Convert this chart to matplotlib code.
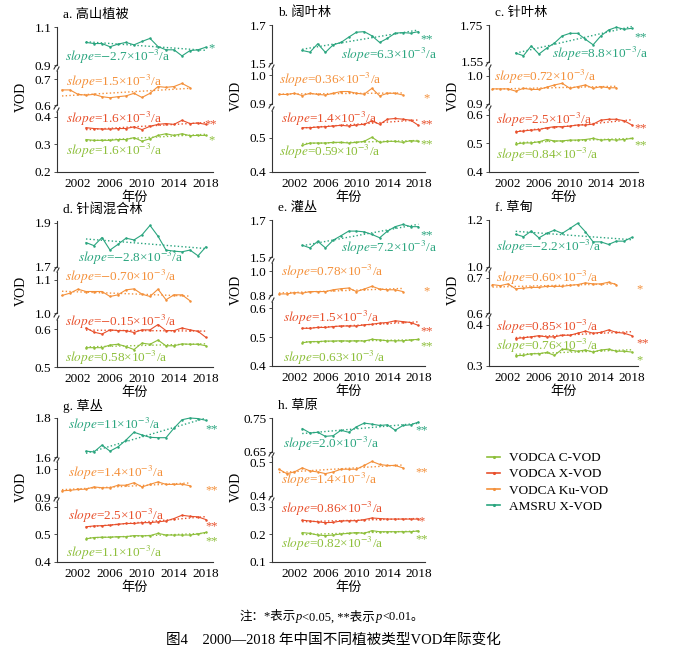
import numpy as np
import matplotlib.pyplot as plt
from matplotlib.lines import Line2D

plt.rcParams['font.family'] = ['Liberation Serif', 'Noto Sans CJK SC']
plt.rcParams['mathtext.fontset'] = 'stix'

W, H = 679, 653

# years
yrs_sat = list(range(2003, 2019))   # AMSRU, VODCA C and X
yrs_ku = list(range(2000, 2017))    # VODCA Ku

# a. alpine vegetation
a_amsru = [1.019, 1.013, 1.013, 0.996, 1.010, 1.019, 1.006, 1.024, 1.040, 0.997, 0.980, 0.980, 0.948, 0.976, 0.980, 0.994]
a_ku = [0.658, 0.658, 0.641, 0.638, 0.641, 0.632, 0.628, 0.632, 0.635, 0.645, 0.629, 0.645, 0.671, 0.668, 0.671, 0.683, 0.667]
a_x = [0.361, 0.358, 0.356, 0.356, 0.358, 0.358, 0.364, 0.354, 0.366, 0.373, 0.376, 0.373, 0.388, 0.376, 0.378, 0.373]
a_c = [0.318, 0.315, 0.315, 0.315, 0.318, 0.318, 0.325, 0.312, 0.321, 0.333, 0.339, 0.333, 0.339, 0.332, 0.333, 0.333]

# b. broadleaf forest
b_amsru = [1.566, 1.557, 1.601, 1.556, 1.596, 1.608, 1.636, 1.662, 1.665, 1.643, 1.608, 1.630, 1.657, 1.660, 1.657, 1.665]
b_ku = [0.933, 0.933, 0.937, 0.929, 0.937, 0.933, 0.931, 0.937, 0.943, 0.943, 0.937, 0.934, 0.954, 0.928, 0.937, 0.937, 0.931]
b_x = [0.530, 0.530, 0.532, 0.533, 0.535, 0.537, 0.535, 0.538, 0.540, 0.550, 0.540, 0.555, 0.557, 0.555, 0.552, 0.537]
b_c = [0.478, 0.485, 0.485, 0.485, 0.487, 0.487, 0.485, 0.487, 0.490, 0.502, 0.487, 0.490, 0.490, 0.487, 0.492, 0.490]

# c. needleleaf forest
c_amsru = [1.598, 1.584, 1.637, 1.593, 1.625, 1.652, 1.691, 1.705, 1.705, 1.673, 1.643, 1.691, 1.723, 1.738, 1.727, 1.732]
c_ku = [0.954, 0.954, 0.954, 0.946, 0.956, 0.952, 0.952, 0.960, 0.968, 0.974, 0.956, 0.962, 0.968, 0.956, 0.962, 0.958, 0.958]
c_x = [0.541, 0.544, 0.547, 0.549, 0.555, 0.559, 0.559, 0.561, 0.565, 0.565, 0.568, 0.582, 0.585, 0.585, 0.580, 0.565]
c_c = [0.498, 0.502, 0.502, 0.506, 0.514, 0.509, 0.509, 0.512, 0.512, 0.514, 0.518, 0.512, 0.514, 0.512, 0.514, 0.518]

# d. mixed forest
d_amsru = [1.811, 1.797, 1.834, 1.777, 1.803, 1.831, 1.823, 1.846, 1.889, 1.840, 1.777, 1.772, 1.769, 1.777, 1.751, 1.792]
d_ku = [1.053, 1.060, 1.072, 1.065, 1.065, 1.065, 1.050, 1.055, 1.070, 1.073, 1.057, 1.050, 1.072, 1.040, 1.055, 1.055, 1.037]
d_x = [0.603, 0.592, 0.587, 0.598, 0.596, 0.596, 0.591, 0.598, 0.598, 0.612, 0.596, 0.596, 0.603, 0.598, 0.594, 0.578]
d_c = [0.551, 0.551, 0.551, 0.558, 0.560, 0.554, 0.546, 0.563, 0.560, 0.571, 0.556, 0.556, 0.561, 0.560, 0.560, 0.556]

# e. shrubland
e_amsru = [1.564, 1.549, 1.585, 1.549, 1.591, 1.615, 1.640, 1.640, 1.636, 1.622, 1.604, 1.640, 1.664, 1.676, 1.664, 1.664]
e_ku = [0.809, 0.809, 0.821, 0.815, 0.829, 0.829, 0.829, 0.844, 0.853, 0.859, 0.829, 0.850, 0.874, 0.850, 0.844, 0.844, 0.829]
e_x = [0.530, 0.530, 0.533, 0.533, 0.536, 0.538, 0.538, 0.538, 0.542, 0.544, 0.548, 0.550, 0.556, 0.553, 0.550, 0.540]
e_c = [0.480, 0.484, 0.484, 0.486, 0.486, 0.487, 0.486, 0.487, 0.486, 0.492, 0.490, 0.487, 0.487, 0.487, 0.490, 0.492]

# f. meadow
f_amsru = [1.139, 1.129, 1.153, 1.124, 1.143, 1.157, 1.143, 1.164, 1.186, 1.150, 1.107, 1.107, 1.096, 1.110, 1.110, 1.126]
f_ku = [0.681, 0.678, 0.683, 0.669, 0.671, 0.673, 0.673, 0.676, 0.676, 0.676, 0.679, 0.681, 0.686, 0.683, 0.683, 0.688, 0.681]
f_x = [0.367, 0.369, 0.371, 0.374, 0.371, 0.371, 0.375, 0.375, 0.380, 0.385, 0.380, 0.382, 0.388, 0.382, 0.380, 0.374]
f_c = [0.325, 0.326, 0.330, 0.330, 0.333, 0.326, 0.341, 0.339, 0.336, 0.339, 0.334, 0.339, 0.341, 0.336, 0.336, 0.334]

# g. grass-shrub
g_amsru = [1.630, 1.626, 1.661, 1.630, 1.652, 1.687, 1.727, 1.713, 1.701, 1.699, 1.699, 1.748, 1.791, 1.800, 1.797, 1.788]
g_ku = [0.922, 0.924, 0.927, 0.928, 0.936, 0.933, 0.933, 0.942, 0.942, 0.951, 0.936, 0.945, 0.954, 0.945, 0.945, 0.946, 0.940]
g_x = [0.528, 0.531, 0.532, 0.534, 0.537, 0.540, 0.540, 0.543, 0.543, 0.546, 0.549, 0.558, 0.570, 0.566, 0.564, 0.554]
g_c = [0.484, 0.489, 0.490, 0.490, 0.492, 0.492, 0.496, 0.495, 0.496, 0.504, 0.498, 0.498, 0.498, 0.498, 0.502, 0.508]

# h. grassland
h_amsru = [0.719, 0.706, 0.708, 0.696, 0.698, 0.714, 0.708, 0.724, 0.735, 0.732, 0.728, 0.730, 0.714, 0.728, 0.730, 0.738]
h_ku = [0.479, 0.466, 0.471, 0.483, 0.474, 0.471, 0.466, 0.471, 0.479, 0.479, 0.479, 0.490, 0.502, 0.493, 0.490, 0.490, 0.483]
h_x = [0.252, 0.249, 0.246, 0.243, 0.244, 0.249, 0.250, 0.250, 0.254, 0.260, 0.258, 0.256, 0.256, 0.256, 0.256, 0.256]
h_c = [0.207, 0.204, 0.198, 0.196, 0.198, 0.202, 0.204, 0.207, 0.204, 0.214, 0.210, 0.210, 0.210, 0.210, 0.210, 0.213]

# slopes (x10^-3/a) and significance, order: AMSRU, Ku, X, C
a_slopes, a_sig = ['-2.7', '1.5', '1.6', '1.6'], ['*', '', '**', '*']
b_slopes, b_sig = ['6.3', '0.36', '1.4', '0.59'], ['**', '*', '**', '**']
c_slopes, c_sig = ['8.8', '0.72', '2.5', '0.84'], ['**', '', '**', '**']
d_slopes, d_sig = ['-2.8', '-0.70', '-0.15', '0.58'], ['', '', '', '']
e_slopes, e_sig = ['7.2', '0.78', '1.5', '0.63'], ['**', '*', '**', '**']
f_slopes, f_sig = ['-2.2', '0.60', '0.85', '0.76'], ['', '*', '**', '*']
g_slopes, g_sig = ['11', '1.4', '2.5', '1.1'], ['**', '**', '**', '**']
h_slopes, h_sig = ['2.0', '1.4', '0.86', '0.82'], ['**', '**', '*', '**']

series_labels = ['AMSRU X-VOD', 'VODCA Ku-VOD', 'VODCA X-VOD', 'VODCA C-VOD']
colors = ['#2aa57f', '#f4903a', '#e8502c', '#8dbf3a']
seg_of = [0, 1, 2, 2]

# column geometry: left px, width px, xlim
cols = [(57, 156, (1999.375, 2018.875)),
        (272, 153, (1999.1, 2018.85)),
        (489, 149, (1999.55, 2018.8))]

panels = [
    dict(title='a. 高山植被', col=0, data=(a_amsru, a_ku, a_x, a_c), slopes=a_slopes, sig=a_sig,
         segs=[(0.9, 1.1, [0.9, 1.1], ['0.9', '1.1'], 27, 65),
               (0.6, 0.7308, [0.6, 0.7], ['0.6', '0.7'], 71, 105),
               (0.2, 0.418, [0.2, 0.3, 0.4], ['0.2', '0.3', '0.4'], 112, 172)],
         txt=[(65, 57), (66, 82), (66, 119), (66, 151)],
         star=[(212, 45), (212, 82), (211, 121), (212, 137)]),
    dict(title='b. 阔叶林', col=1, data=(b_amsru, b_ku, b_x, b_c), slopes=b_slopes, sig=b_sig,
         segs=[(1.5, 1.7, [1.5, 1.7], ['1.5', '1.7'], 25, 63),
               (0.9, 1.0207, [0.9, 1.0], ['0.9', '1.0'], 69, 104),
               (0.4, 0.579, [0.4, 0.5], ['0.4', '0.5'], 111, 172)],
         txt=[(341, 55), (279, 80), (281, 119), (279, 152)],
         star=[(427, 36), (427, 95), (427, 121), (427, 141)]),
    dict(title='c. 针叶林', col=2, data=(c_amsru, c_ku, c_x, c_c), slopes=c_slopes, sig=c_sig,
         segs=[(1.55, 1.75, [1.55, 1.75], ['1.55', '1.75'], 25, 62),
               (0.9, 1.025, [0.9, 1.0], ['0.9', '1.0'], 69, 104),
               (0.4, 0.6175, [0.4, 0.5, 0.6], ['0.4', '0.5', '0.6'], 110, 172)],
         txt=[(552, 54), (494, 77), (496, 120), (496, 155)],
         star=[(641, 34), (641, 77), (641, 125), (641, 142)]),
    dict(title='d. 针阔混合林', col=0, data=(d_amsru, d_ku, d_x, d_c), slopes=d_slopes, sig=d_sig,
         segs=[(1.7, 1.909, [1.7, 1.9], ['1.7', '1.9'], 221, 267),
               (1.0, 1.124, [1.0, 1.1], ['1.0', '1.1'], 272, 313),
               (0.5, 0.624, [0.5, 0.6], ['0.5', '0.6'], 320, 367)],
         txt=[(78, 258), (65, 277), (65, 322), (65, 358)],
         star=[(212, 230), (212, 280), (212, 330), (212, 350)]),
    dict(title='e. 灌丛', col=1, data=(e_amsru, e_ku, e_x, e_c), slopes=e_slopes, sig=e_sig,
         segs=[(1.5, 1.7, [1.5, 1.7], ['1.5', '1.7'], 220, 257),
               (0.8, 1.07, [0.8, 1.0], ['0.8', '1.0'], 263, 295),
               (0.4, 0.6207, [0.4, 0.5, 0.6], ['0.4', '0.5', '0.6'], 302, 366)],
         txt=[(341, 248), (281, 272), (283, 318), (283, 358)],
         star=[(427, 232), (427, 288), (427, 328), (427, 343)]),
    dict(title='f. 草甸', col=2, data=(f_amsru, f_ku, f_x, f_c), slopes=f_slopes, sig=f_sig,
         segs=[(1.0, 1.2, [1.0, 1.2], ['1.0', '1.2'], 220, 267),
               (0.6, 0.717, [0.6, 0.7], ['0.6', '0.7'], 272, 313),
               (0.3, 0.417, [0.3, 0.4], ['0.3', '0.4'], 318, 366)],
         txt=[(496, 247), (496, 278), (496, 327), (496, 346)],
         star=[(640, 240), (640, 286), (643, 340), (640, 357)]),
    dict(title='g. 草丛', col=0, data=(g_amsru, g_ku, g_x, g_c), slopes=g_slopes, sig=g_sig,
         segs=[(1.6, 1.8, [1.6, 1.8], ['1.6', '1.8'], 418, 457),
               (0.9, 1.025, [0.9, 1.0], ['0.9', '1.0'], 462, 497),
               (0.4, 0.618, [0.4, 0.5, 0.6], ['0.4', '0.5', '0.6'], 502, 562)],
         txt=[(68, 425), (68, 473), (68, 516), (66, 553)],
         star=[(212, 426), (212, 487), (212, 523), (212, 538)]),
    dict(title='h. 草原', col=1, data=(h_amsru, h_ku, h_x, h_c), slopes=h_slopes, sig=h_sig,
         segs=[(0.65, 0.75, [0.65, 0.75], ['0.65', '0.75'], 418, 452),
               (0.4, 0.515, [0.4, 0.5], ['0.4', '0.5'], 457, 496),
               (0.1, 0.318, [0.1, 0.2, 0.3], ['0.1', '0.2', '0.3'], 502, 562)],
         txt=[(283, 444), (281, 480), (281, 509), (281, 544)],
         star=[(422, 427), (422, 469), (422, 518), (422, 536)]),
]

fig = plt.figure(figsize=(W / 100, H / 100), dpi=100)
axis_color = '#333333'


def fx(x):
    return x / W


def fy(y):
    return 1 - y / H


def slope_label(s):
    # minus kept inside math so it renders as a real minus sign
    if s.startswith('-'):
        s = '$-$' + s[1:]
    return '$\\mathit{slope}$=' + s + '×10$^{-3}$/a'


for p in panels:
    left, width, xlim = cols[p['col']]
    axs = []
    for i, (lo, hi, ticks, labels, top, bot) in enumerate(p['segs']):
        ax = fig.add_axes([fx(left), fy(bot), width / W, (bot - top) / H])
        ax.set_xlim(*xlim)
        ax.set_ylim(lo, hi)
        ax.patch.set_visible(False)
        for s in ['top', 'right']:
            ax.spines[s].set_visible(False)
        ax.spines['left'].set_color(axis_color)
        ax.spines['left'].set_linewidth(0.8)
        ax.set_yticks(ticks)
        ax.set_yticklabels(labels)
        ax.tick_params(axis='y', length=2, width=0.6, pad=2, labelsize=9.5, color=axis_color)
        if i < 2:
            ax.spines['bottom'].set_visible(False)
            ax.set_xticks([])
            # break mark under this segment
            fig.add_artist(Line2D([fx(left), fx(left - 2), fx(left - 3)],
                                  [fy(bot), fy(bot + 2), fy(bot + 4)],
                                  color=axis_color, lw=0.8))
        else:
            ax.spines['bottom'].set_color(axis_color)
            ax.spines['bottom'].set_linewidth(0.8)
            ax.set_xticks([2002, 2006, 2010, 2014, 2018])
            ax.tick_params(axis='x', length=0, pad=4, labelsize=9.5)
            ax.set_xlabel('年份', fontsize=9.5, labelpad=1)
        if i > 0:
            fig.add_artist(Line2D([fx(left + 2), fx(left + 1), fx(left)],
                                  [fy(top - 4), fy(top - 2), fy(top)],
                                  color=axis_color, lw=0.8))
        axs.append(ax)

    for k, vals in enumerate(p['data']):
        ax = axs[seg_of[k]]
        yrs = yrs_ku if k == 1 else yrs_sat
        ax.plot(yrs, vals, '-', marker='.', ms=1.6, lw=0.8, color=colors[k], clip_on=False)
        coef = np.polyfit(yrs, vals, 1)
        ax.plot(yrs, np.polyval(coef, yrs), ':', lw=1.0, color=colors[k], clip_on=False)
        tx, ty = p['txt'][k]
        fig.text(fx(tx), fy(ty), slope_label(p['slopes'][k]), ha='left', va='center',
                 fontsize=9.5, color=colors[k])
        if p['sig'][k]:
            sx, sy = p['star'][k]
            fig.text(fx(sx), fy(sy + 3), p['sig'][k], ha='center', va='center',
                     fontsize=9, color=colors[k])

    top_px = p['segs'][0][4]
    bot_px = p['segs'][2][5]
    fig.text(fx(left + 6), fy(top_px - 12), p['title'], ha='left', va='center', fontsize=9.5)
    fig.text(fx(left - 36), fy((top_px + bot_px) / 2 - 3), 'VOD', rotation=90,
             ha='center', va='center', fontsize=10)

# legend
handles = [Line2D([], [], color=colors[k], marker='.', ms=2.5, lw=1.2) for k in [3, 2, 1, 0]]
labels = [series_labels[k] for k in [3, 2, 1, 0]]
fig.legend(handles, labels, loc='upper left', bbox_to_anchor=(fx(487), fy(452)),
           frameon=False, fontsize=9.5, handlelength=1.0, handletextpad=0.7,
           labelspacing=0.3, borderpad=0, borderaxespad=0)

# note line, with italic p; pieces laid out one after another
note_pieces = [('注：*表示', 'normal'), ('p', 'italic'), ('<0.05, **表示', 'normal'),
               ('p', 'italic'), ('<0.01。', 'normal')]
renderer = fig.canvas.get_renderer()
x_cur = 239
for txt, style in note_pieces:
    t = fig.text(fx(x_cur), fy(617), txt, ha='left', va='center', fontsize=9, style=style)
    x_cur += t.get_window_extent(renderer=renderer).width + (1 if style == 'italic' else 0)

fig.text(fx(333), fy(640), '图4　2000—2018 年中国不同植被类型VOD年际变化', ha='center', va='center',
         fontsize=10.5)

fig.savefig('out.png', dpi=100)
